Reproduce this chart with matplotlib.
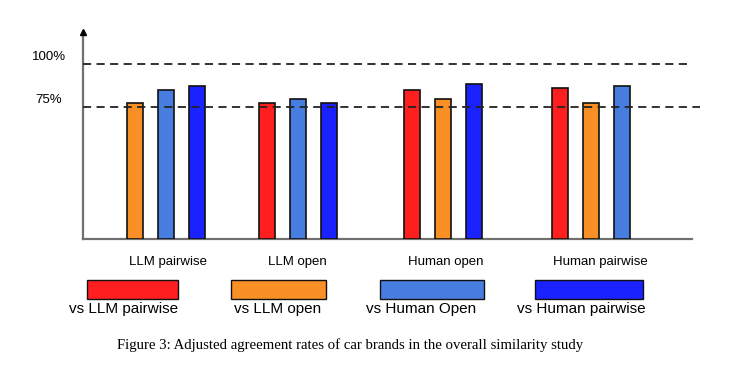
import matplotlib.pyplot as plt
from matplotlib.patches import Rectangle

# data (percent agreement)
groups = ['LLM pairwise', 'LLM open', 'Human open', 'Human pairwise']
series = ['vs LLM pairwise', 'vs LLM open', 'vs Human Open', 'vs Human pairwise']
colors = ['#ff1f1f', '#f99025', '#487de0', '#1a22ff']
vs_llm_pairwise = [None, 77.0, 84.8, 86.2]
vs_llm_open = [77.0, None, 79.4, 77.0]
vs_human_open = [84.8, 79.4, None, 87.2]
vs_human_pairwise = [87.2, 77.0, 88.3, None]
values = [vs_llm_pairwise, vs_llm_open, vs_human_open, vs_human_pairwise]

W, H = 740, 374
fig = plt.figure(figsize=(W / 100, H / 100), dpi=100)

# main axes placed in pixel terms
left, right, top, base = 83, 692, 32, 239
ax = fig.add_axes([left / W, (H - base) / H, (right - left) / W, (base - top) / H])
ymin, ymax = -2.8, 119
ax.set_ylim(ymin, ymax)
ax.set_xlim(0, right - left)

centers = [83, 214.5, 360.3, 508]
offsets = [-31, 0, 31]
bw = 16
for gi, c in enumerate(centers):
    k = 0
    for si in range(len(series)):
        v = values[si][gi]
        if v is None:
            continue
        ax.bar(c + offsets[k], v - ymin, bottom=ymin, width=bw, color=colors[si],
               edgecolor='#111111', linewidth=1.2, zorder=3)
        k += 1

ax.axhline(100, color='#222222', lw=1.3, ls=(0, (4.5, 3)), zorder=4)
ax.plot([0, 617], [75, 75], color='#222222', lw=1.3, ls=(0, (4.5, 3)), zorder=4, clip_on=False)

for s in ['top', 'right']:
    ax.spines[s].set_visible(False)
for s in ['left', 'bottom']:
    ax.spines[s].set_color('#707070')
    ax.spines[s].set_linewidth(1.6)
ax.set_xticks([])
ax.set_yticks([])
ax.plot([0], [ymax], marker='^', color='black', markersize=4, clip_on=False, zorder=5)

# overlay in pixel coordinates for labels / legend / caption
ov = fig.add_axes([0, 0, 1, 1])
ov.set_xlim(0, W)
ov.set_ylim(H, 0)
ov.axis('off')
ov.patch.set_alpha(0)

ov.text(49, 56.5, '100%', ha='center', va='center', fontsize=9.5, family='Liberation Sans')
ov.text(49, 100, '75%', ha='center', va='center', fontsize=9.5, family='Liberation Sans')

label_x = [168, 297.5, 446, 600]
for x, g in zip(label_x, groups):
    ov.text(x, 261.5, g, ha='center', va='center', fontsize=9.5, family='Liberation Sans')

rects = [(86.7, 178.3), (230.7, 326.4), (380, 484), (535, 643)]
text_x = [124, 278, 421, 581]
for (x0, x1), c, s, tx in zip(rects, colors, series, text_x):
    ov.add_patch(Rectangle((x0, 279.5), x1 - x0, 19, facecolor=c, edgecolor='#111111', lw=1.0))
    ov.text(tx, 308.5, s, ha='center', va='center', fontsize=11, family='Liberation Sans')

ov.text(350, 345, 'Figure 3: Adjusted agreement rates of car brands in the overall similarity study',
        ha='center', va='center', fontsize=10.6, family='Liberation Serif')

fig.savefig('out.png', dpi=100)
